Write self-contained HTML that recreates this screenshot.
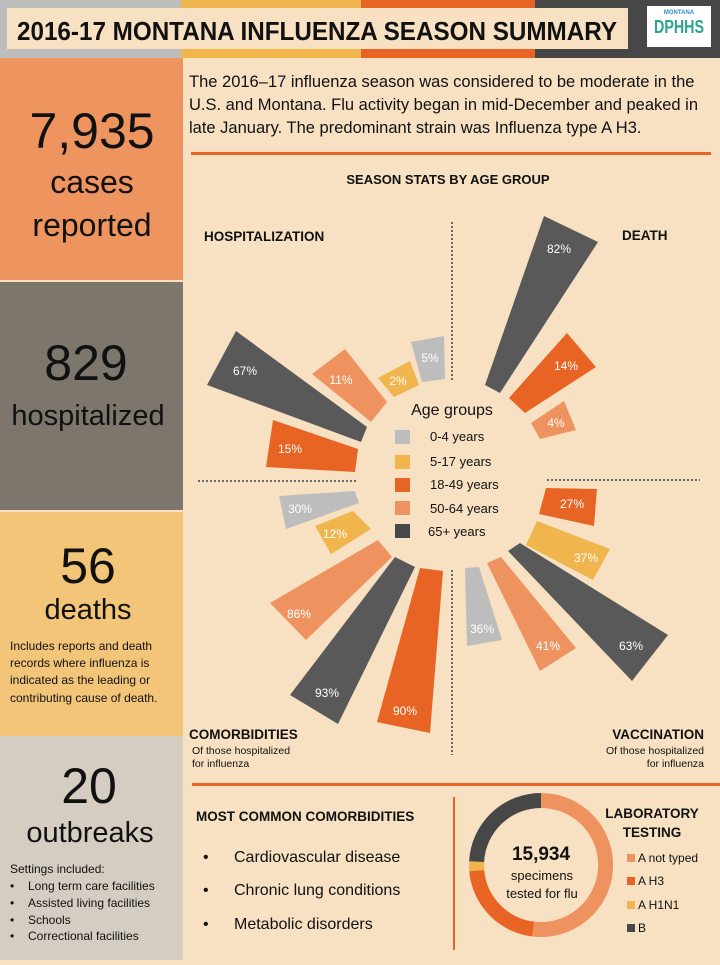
<!DOCTYPE html>
<html><head><meta charset="utf-8"><style>
body{margin:0;width:720px;height:960px;overflow:hidden;background:#f7e1c2;font-family:"Liberation Sans",sans-serif;}
svg text{font-family:"Liberation Sans",sans-serif;}
</style></head><body>
<svg width="720" height="960" xmlns="http://www.w3.org/2000/svg">
<rect width="720" height="960" fill="#f7e1c2"/>
<!-- header -->
<rect x="0" y="0" width="181" height="58" fill="#bdbdbd"/>
<rect x="181" y="0" width="180" height="58" fill="#f0b54d"/>
<rect x="361" y="0" width="174" height="58" fill="#e86425"/>
<rect x="535" y="0" width="185" height="58" fill="#474747"/>
<rect x="7" y="8" width="621" height="41" fill="#f7e1c2"/>
<text x="317" y="40" font-size="26" font-weight="bold" text-anchor="middle" textLength="600" lengthAdjust="spacingAndGlyphs" fill="#111">2016-17 MONTANA INFLUENZA SEASON SUMMARY</text>
<rect x="647" y="6" width="64" height="41" fill="#fff"/>
<text x="679" y="14" font-size="6" font-weight="bold" text-anchor="middle" fill="#2a8fc9">MONTANA</text>
<text x="679" y="33" font-size="18" font-weight="bold" text-anchor="middle" fill="#2aa58d" textLength="50" lengthAdjust="spacingAndGlyphs">DPHHS</text>
<!-- left column -->
<rect x="0" y="58" width="183" height="222" fill="#ee955f"/>
<rect x="0" y="282" width="183" height="228" fill="#7c766d"/>
<rect x="0" y="512" width="183" height="224" fill="#f3c579"/>
<rect x="0" y="736" width="183" height="224" fill="#d5cdc2"/>
<text x="92" y="148" font-size="50" text-anchor="middle" fill="#111">7,935</text>
<text x="92" y="193" font-size="32" text-anchor="middle" fill="#111">cases</text>
<text x="92" y="236" font-size="32" text-anchor="middle" fill="#111">reported</text>
<text x="86" y="380" font-size="50" text-anchor="middle" fill="#111">829</text>
<text x="88" y="425" font-size="29" text-anchor="middle" fill="#111">hospitalized</text>
<text x="88" y="583" font-size="50" text-anchor="middle" fill="#111">56</text>
<text x="88" y="619" font-size="29" text-anchor="middle" fill="#111">deaths</text>
<g font-size="12" fill="#111"><text x="10" y="650">Includes reports and death</text><text x="10" y="667">records where influenza is</text><text x="10" y="684">indicated as the leading or</text><text x="10" y="702">contributing cause of death.</text></g>
<text x="89" y="803" font-size="50" text-anchor="middle" fill="#111">20</text>
<text x="90" y="842" font-size="29" text-anchor="middle" fill="#111">outbreaks</text>
<g font-size="12" fill="#111"><text x="10" y="873">Settings included:</text>
<text x="10" y="890">•</text><text x="28" y="890">Long term care facilities</text>
<text x="10" y="907">•</text><text x="28" y="907">Assisted living facilities</text>
<text x="10" y="924">•</text><text x="28" y="924">Schools</text>
<text x="10" y="940">•</text><text x="28" y="940">Correctional facilities</text></g>
<!-- intro -->
<g font-size="16.5" fill="#111"><text x="189" y="87">The 2016–17 influenza season was considered to be moderate in the</text>
<text x="189" y="110">U.S. and Montana. Flu activity began in mid-December and peaked in</text>
<text x="189" y="133">late January. The predominant strain was Influenza type A H3.</text></g>
<rect x="191" y="152" width="520" height="3" fill="#e86425"/>
<text x="448" y="184" font-size="13" font-weight="bold" text-anchor="middle" fill="#111">SEASON STATS BY AGE GROUP</text>
<text x="204" y="241" font-size="13.5" font-weight="bold" fill="#111">HOSPITALIZATION</text>
<text x="622" y="240" font-size="13.5" font-weight="bold" fill="#111">DEATH</text>
<!-- dotted lines -->
<g stroke="#666" stroke-width="2" stroke-dasharray="2,2"><line x1="452" y1="222" x2="452" y2="380"/><line x1="198" y1="481" x2="356" y2="481"/><line x1="547" y1="480" x2="700" y2="480"/><line x1="452" y1="570" x2="452" y2="755"/></g>
<!-- bars -->
<g>
<polygon points="236,331 207,385 361,442 367,427" fill="#595959"/>
<polygon points="312,374 345,349 387,402 371,422" fill="#ee935f"/>
<polygon points="378,378 410,361 419,385 394,397" fill="#f0b54d"/>
<polygon points="411,342 444,336 445,379 422,382" fill="#bdbdbd"/>
<polygon points="273,420 266,467 355,472 358,449" fill="#e86425"/>
<polygon points="279,496 355,491 359,503 286,529" fill="#bdbdbd"/>
<polygon points="315,526 353,511 371,529 331,554" fill="#f0b54d"/>
<polygon points="270,603 378,540 392,557 306,640" fill="#ee935f"/>
<polygon points="290,695 395,557 415,567 338,724" fill="#595959"/>
<polygon points="377,722 420,568 443,571 430,733" fill="#e86425"/>
<polygon points="544,216 598,242 500,393 485,385" fill="#595959"/>
<polygon points="567,333 596,367 525,413 509,398" fill="#e86425"/>
<polygon points="531,423 564,401 576,430 540,439" fill="#ee935f"/>
<polygon points="546,488 597,489 594,526 539,514" fill="#e86425"/>
<polygon points="537,521 610,549 593,580 526,545" fill="#f0b54d"/>
<polygon points="508,551 520,543 668,635 632,681" fill="#595959"/>
<polygon points="487,563 501,557 576,648 540,671" fill="#ee935f"/>
<polygon points="465,568 479,567 502,640 467,646" fill="#bdbdbd"/>
</g>
<g font-size="12" fill="#fff" text-anchor="middle">
<text x="245" y="375">67%</text><text x="341" y="384">11%</text><text x="398" y="385">2%</text><text x="430" y="362">5%</text><text x="290" y="453">15%</text>
<text x="300" y="513">30%</text><text x="335" y="538">12%</text><text x="299" y="618">86%</text><text x="327" y="697">93%</text><text x="405" y="715">90%</text>
<text x="559" y="253">82%</text><text x="566" y="370">14%</text><text x="556" y="427">4%</text>
<text x="572" y="508">27%</text><text x="586" y="562">37%</text><text x="631" y="650">63%</text><text x="548" y="650">41%</text><text x="482" y="633">36%</text>
</g>
<!-- legend -->
<text x="452" y="415" font-size="16" text-anchor="middle" fill="#111">Age groups</text>
<g font-size="13" fill="#111">
<rect x="395" y="430" width="15" height="14" fill="#bdbdbd"/><text x="430" y="441">0-4 years</text>
<rect x="395" y="455" width="15" height="14" fill="#f0b54d"/><text x="430" y="466">5-17 years</text>
<rect x="395" y="478" width="15" height="14" fill="#e86425"/><text x="430" y="489">18-49 years</text>
<rect x="395" y="501" width="15" height="14" fill="#ee935f"/><text x="430" y="513">50-64 years</text>
<rect x="395" y="524" width="15" height="14" fill="#474747"/><text x="428" y="536">65+ years</text>
</g>
<text x="189" y="739" font-size="13.5" font-weight="bold" fill="#111">COMORBIDITIES</text>
<text x="192" y="754" font-size="10.5" fill="#111">Of those hospitalized</text>
<text x="192" y="767" font-size="10.5" fill="#111">for influenza</text>
<text x="704" y="739" font-size="13.5" font-weight="bold" text-anchor="end" fill="#111">VACCINATION</text>
<text x="704" y="754" font-size="10.5" text-anchor="end" fill="#111">Of those hospitalized</text>
<text x="704" y="767" font-size="10.5" text-anchor="end" fill="#111">for influenza</text>
<rect x="192" y="783" width="528" height="3" fill="#e86425"/>
<rect x="453" y="797" width="2" height="153" fill="#e86425"/>
<text x="196" y="821" font-size="13.5" font-weight="bold" fill="#111">MOST COMMON COMORBIDITIES</text>
<g font-size="16" fill="#111">
<text x="203" y="862">•</text><text x="234" y="862">Cardiovascular disease</text>
<text x="203" y="895">•</text><text x="234" y="895">Chronic lung conditions</text>
<text x="203" y="929">•</text><text x="234" y="929">Metabolic disorders</text></g>
<!-- donut -->
<g fill="none" stroke-width="15" transform="translate(541,865)">
<path d="M0,-64.5 A64.5,64.5 0 1 1 -7.9,64" stroke="#ee935f"/>
<path d="M-7.9,64 A64.5,64.5 0 0 1 -64.3,5.6" stroke="#e86425"/>
<path d="M-64.3,5.6 A64.5,64.5 0 0 1 -64.4,-3.4" stroke="#f0b54d"/>
<path d="M-64.4,-3.4 A64.5,64.5 0 0 1 0,-64.5" stroke="#474747"/>
</g>
<text x="541" y="860" font-size="19" font-weight="bold" text-anchor="middle" fill="#111">15,934</text>
<text x="542" y="880" font-size="13" text-anchor="middle" fill="#111">specimens</text>
<text x="542" y="898" font-size="13" text-anchor="middle" fill="#111">tested for flu</text>
<text x="652" y="818" font-size="13.5" font-weight="bold" text-anchor="middle" fill="#111">LABORATORY</text>
<text x="652" y="837" font-size="13.5" font-weight="bold" text-anchor="middle" fill="#111">TESTING</text>
<g font-size="12" fill="#111">
<rect x="627" y="854" width="8" height="8" fill="#ee935f"/><text x="638" y="862">A not typed</text>
<rect x="627" y="877" width="8" height="8" fill="#e86425"/><text x="638" y="885">A H3</text>
<rect x="627" y="901" width="8" height="8" fill="#f0b54d"/><text x="638" y="909">A H1N1</text>
<rect x="627" y="924" width="8" height="8" fill="#474747"/><text x="638" y="932">B</text>
</g>
</svg>
</body></html>
